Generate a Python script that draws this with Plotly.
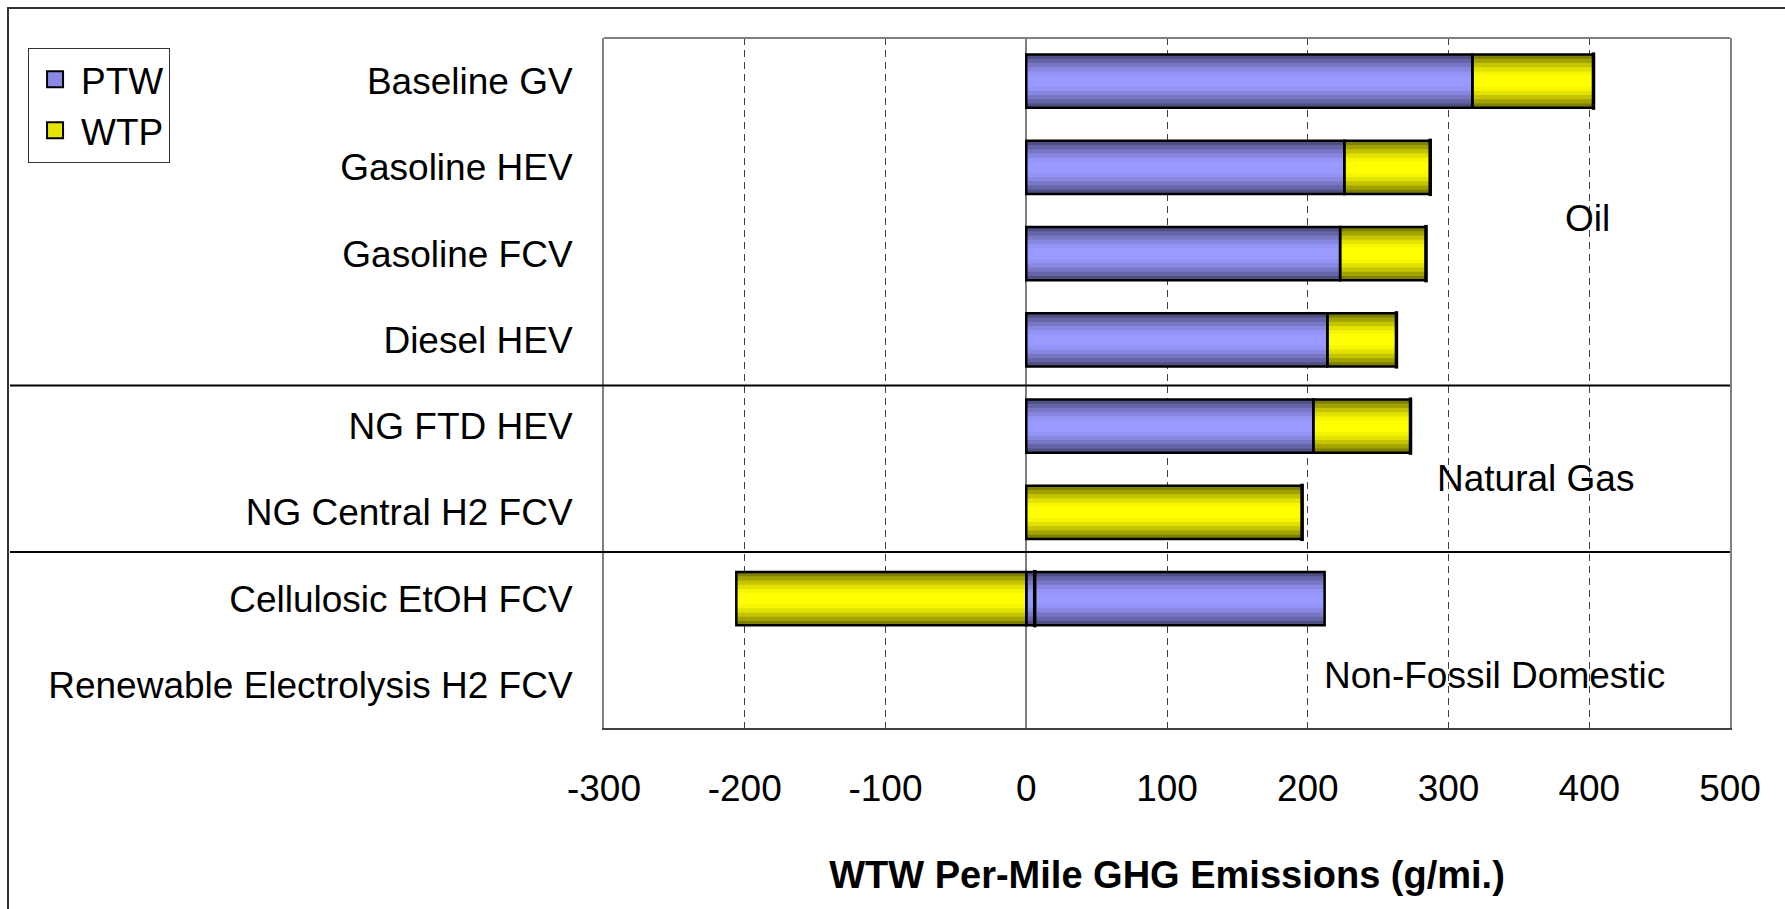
import plotly.graph_objects as go

categories = ["Baseline GV", "Gasoline HEV", "Gasoline FCV", "Diesel HEV",
              "NG FTD HEV", "NG Central H2 FCV", "Cellulosic EtOH FCV",
              "Renewable Electrolysis H2 FCV"]
ptw = [317, 226, 223, 214, 204, 0, 212, 0]
wtp = [86, 61, 61, 49, 69, 196, -206, 0]
net = [p + w if (p != 0 or w != 0) else None for p, w in zip(ptw, wtp)]

x_ticks = [-300, -200, -100, 0, 100, 200, 300, 400, 500]
groups = ["Oil", "Natural Gas", "Non-Fossil Domestic"]
group_x = [399, 362, 333]
group_y = [1.59, 4.61, 6.89]
separators = [3.53, 5.46]

FONT = "Liberation Sans, Arial, sans-serif"
FS = 37
BAR_W = 0.62

# gradient layers: (width fraction, PTW colour, WTP colour)
layers = [
    (1.00, "#4f4f84", "#7f7f00"),
    (0.84, "#6464a6", "#a3a300"),
    (0.68, "#7777c6", "#c4c400"),
    (0.52, "#8888e2", "#e2e200"),
    (0.36, "#9494f6", "#f6f600"),
    (0.22, "#9999ff", "#ffff00"),
]

def nz(v):
    return [x if x != 0 else None for x in v]

fig = go.Figure()
n_layers = len(layers)
for i, (frac, cp, cw) in enumerate(layers):
    ya = "y" if i == 0 else f"y{i+1}"
    fig.add_trace(go.Bar(y=categories, x=nz(ptw), orientation="h", yaxis=ya,
                         width=BAR_W * frac, marker=dict(color=cp, line=dict(width=0)),
                         showlegend=False, hoverinfo="skip"))
    fig.add_trace(go.Bar(y=categories, x=nz(wtp), orientation="h", yaxis=ya,
                         width=BAR_W * frac, marker=dict(color=cw, line=dict(width=0)),
                         showlegend=False, hoverinfo="skip"))

top = f"y{n_layers+1}"
for vals in (ptw, wtp):
    fig.add_trace(go.Bar(y=categories, x=nz(vals), orientation="h", yaxis=top,
                         width=BAR_W, marker=dict(color="rgba(0,0,0,0)",
                                                  line=dict(color="black", width=2.5)),
                         showlegend=False, hoverinfo="skip"))
fig.add_trace(go.Scatter(y=categories, x=net, yaxis=top, mode="markers",
                         marker=dict(symbol="line-ns", size=41,
                                     line=dict(color="black", width=3.5)),
                         showlegend=False, hoverinfo="skip"))

# legend proxies
fig.add_trace(go.Scatter(x=[None], y=[None], mode="markers", name="PTW", yaxis=top,
                         marker=dict(symbol="square", size=16, color="#8a8ae6",
                                     line=dict(color="black", width=2)),
                         legendgroup="a"))
fig.add_trace(go.Scatter(x=[None], y=[None], mode="markers", name="WTP", yaxis=top,
                         marker=dict(symbol="square", size=16, color="#e6e600",
                                     line=dict(color="black", width=2)),
                         legendgroup="b"))

yrange = [len(categories) - 0.5, -0.5]
layout_axes = {}
layout_axes["yaxis"] = dict(type="category", categoryarray=categories, categoryorder="array",
                            range=yrange, showgrid=False, zeroline=False,
                            showline=True, mirror=True, linecolor="#808080", linewidth=2,
                            ticks="", ticklabelstandoff=22,
                            tickfont=dict(family=FONT, size=FS, color="black"))
for i in range(2, n_layers + 2):
    layout_axes[f"yaxis{i}"] = dict(type="category", categoryarray=categories,
                                    categoryorder="array", range=yrange,
                                    overlaying="y", visible=False, anchor="x")

fig.update_layout(
    **layout_axes,
    barmode="relative",
    width=1785, height=909,
    margin=dict(l=604, r=55, t=38, b=181),
    paper_bgcolor="white", plot_bgcolor="white",
    font=dict(family=FONT, size=FS, color="black"),
    xaxis=dict(range=[-300, 500], tickvals=x_ticks, ticktext=[str(v) for v in x_ticks],
               showgrid=True, gridcolor="#404040", gridwidth=1, griddash="7px,5px",
               zeroline=True, zerolinecolor="#808080", zerolinewidth=1.5,
               showline=True, linecolor="#404040", linewidth=2,
               ticks="", ticklabelstandoff=27,
               tickfont=dict(family=FONT, size=FS, color="black"),
               title=dict(text="<b>WTW Per-Mile GHG Emissions (g/mi.)</b>",
                          font=dict(family=FONT, size=38, color="black"), standoff=53)),
    legend=dict(x=-0.5115, y=0.986, xanchor="left", yanchor="top",
                bordercolor="#333333", borderwidth=1, bgcolor="white",
                font=dict(family=FONT, size=FS, color="black"),
                tracegroupgap=0, itemwidth=42),
    showlegend=True,
)

shapes = []
# outer frame
shapes.append(dict(type="rect", xref="paper", yref="paper",
                   x0=(8 - 604) / 1126, x1=1.2, y0=-0.4, y1=1 + (38 - 8) / 690,
                   line=dict(color="#333333", width=2), fillcolor="rgba(0,0,0,0)", layer="below"))
# top border of plot
shapes.append(dict(type="line", xref="paper", yref="paper", x0=0, x1=1, y0=1, y1=1,
                   line=dict(color="#808080", width=2)))
for s in separators:
    shapes.append(dict(type="line", xref="paper", yref="y", x0=(10 - 604) / 1126, x1=1,
                       y0=s, y1=s, line=dict(color="black", width=2)))
fig.update_layout(shapes=shapes)

for t, gx, gy in zip(groups, group_x, group_y):
    fig.add_annotation(x=gx, y=gy, xref="x", yref="y", text=t, showarrow=False,
                       font=dict(family=FONT, size=FS, color="black"))

fig.write_html("out.html")
